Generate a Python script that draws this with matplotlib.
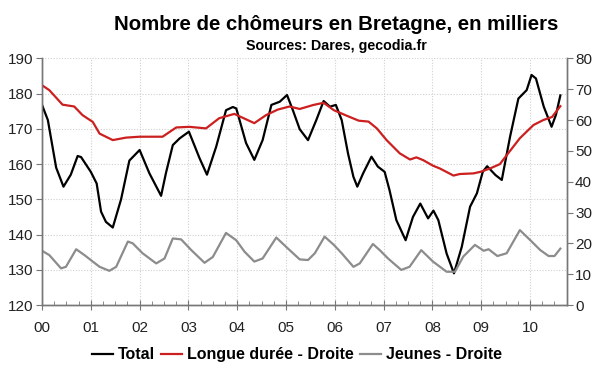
import numpy as np
import matplotlib.pyplot as plt
from matplotlib.ticker import MultipleLocator

plt.rcParams['font.family'] = ['Liberation Sans', 'DejaVu Sans']

# Total (left axis), in thousands
total_x = [0.0, 0.12, 0.29, 0.44, 0.59, 0.73, 0.8, 1.0, 1.12, 1.21, 1.31, 1.45, 1.62, 1.79,
           2.0, 2.2, 2.44, 2.54, 2.68, 2.82, 3.01, 3.23, 3.38, 3.57, 3.77, 3.91, 3.98,
           4.18, 4.35, 4.52, 4.7, 4.87, 5.02, 5.14, 5.28, 5.45, 5.62, 5.77, 5.9, 6.02,
           6.14, 6.27, 6.38, 6.46, 6.58, 6.75, 6.88, 7.02, 7.12, 7.26, 7.45, 7.6, 7.75,
           7.91, 8.02, 8.12, 8.29, 8.44, 8.6, 8.77, 8.91, 9.03, 9.12, 9.29, 9.42, 9.59,
           9.76, 9.93, 10.03, 10.12, 10.28, 10.44, 10.53, 10.62]
total_y = [176.8, 172.5, 159, 153.6, 157, 162.3, 162, 157.8, 154.5, 146.5, 143.6, 142, 150, 161,
           164, 157.4, 151, 157.5, 165.4, 167.3, 169.2, 161.6, 157, 165, 175.3, 176.2, 175.8,
           166, 161.2, 166.8, 176.8, 177.7, 179.6, 175.3, 169.9, 166.8, 172.5, 177.9, 176.3, 176.8,
           172.5, 163, 156.4, 153.6, 157.4, 162.1, 159.3, 157.8, 152.6, 144.1, 138.4, 145, 148.8,
           144.6, 146.8, 144.1, 134.6, 129, 136.5, 147.9, 151.7, 157.8, 159.4, 156.9, 155.5, 167.8,
           178.6, 181, 185.3, 184.3, 176.3, 170.6, 174, 179.5]

# Longue duree (right axis)
longue_x = [0.0, 0.15, 0.42, 0.66, 0.83, 1.04, 1.18, 1.45, 1.72, 2.0, 2.47, 2.75, 3.02, 3.36,
            3.63, 3.94, 4.35, 4.59, 4.83, 5.07, 5.28, 5.56, 5.77, 5.98, 6.26, 6.49, 6.69,
            6.86, 7.06, 7.33, 7.54, 7.67, 7.81, 8.01, 8.15, 8.43, 8.56, 8.84, 8.98, 9.18,
            9.38, 9.55, 9.79, 10.07, 10.27, 10.45, 10.62]
longue_y = [71.3, 69.7, 65, 64.4, 61.6, 59.4, 55.6, 53.5, 54.3, 54.6, 54.6, 57.6, 57.8, 57.3,
            60.6, 62, 59, 61.6, 63.4, 64.4, 63.6, 64.9, 65.6, 63.2, 61.3, 59.8, 59.5,
            57.3, 53.5, 49.2, 47.2, 47.9, 47, 45.2, 44.3, 42, 42.5, 42.7, 43.2, 44.3,
            45.7, 49.2, 54.1, 58.4, 60, 61, 64.5]

# Jeunes (right axis)
jeunes_x = [0.0, 0.15, 0.39, 0.49, 0.7, 0.87, 1.04, 1.18, 1.38, 1.52, 1.76, 1.86, 2.06, 2.34,
            2.51, 2.68, 2.85, 3.06, 3.33, 3.5, 3.77, 3.98, 4.15, 4.35, 4.52, 4.8, 5.0, 5.28,
            5.45, 5.59, 5.79, 5.98, 6.14, 6.38, 6.51, 6.78, 6.92, 7.09, 7.36, 7.53, 7.77,
            8.01, 8.29, 8.46, 8.63, 8.87, 9.05, 9.15, 9.33, 9.52, 9.79, 10.0, 10.21, 10.38,
            10.5, 10.62]
jeunes_y = [17.6, 16.2, 11.9, 12.4, 18.1, 16.2, 14.1, 12.4, 11.1, 12.4, 20.6, 20, 16.8, 13.5,
            15.1, 21.6, 21.3, 17.8, 13.7, 15.6, 23.4, 21, 17.3, 14.1, 15.1, 21.9, 18.9, 14.8,
            14.6, 16.8, 22.2, 19.5, 16.8, 12.4, 13.5, 19.8, 17.8, 15.1, 11.4, 12.4, 17.8,
            14.1, 10.8, 10.8, 15.7, 19.5, 17.6, 18.1, 15.9, 16.8, 24.3, 21.1, 17.8, 15.9,
            15.9, 18.3]

years = ['00', '01', '02', '03', '04', '05', '06', '07', '08', '09', '10']

fig, ax = plt.subplots(figsize=(6, 3.72), dpi=100)
fig.subplots_adjust(left=0.07, right=0.9445, bottom=0.18, top=0.843)
ax2 = ax.twinx()

l1, = ax.plot(total_x, total_y, color='black', lw=1.6, label='Total', zorder=5)
l2, = ax2.plot(longue_x, longue_y, color='#cc1f1f', lw=1.6, label='Longue durée - Droite')
l3, = ax2.plot(jeunes_x, jeunes_y, color='#8c8c8c', lw=1.6, label='Jeunes - Droite')

ax.set_xlim(0, 10.75)
ax.set_ylim(120, 190)
ax2.set_ylim(0, 80)
ax.set_xticks(range(len(years)))
ax.set_xticklabels(years)
ax.xaxis.set_minor_locator(MultipleLocator(0.25))
ax.yaxis.set_major_locator(MultipleLocator(10))
ax2.yaxis.set_major_locator(MultipleLocator(10))

ax.grid(True, which='major', color='#d0d0d0', ls=(0, (1, 1.5)), lw=0.8)
ax.set_axisbelow(True)

spine_c = '#777777'
for a in (ax, ax2):
    a.spines['top'].set_visible(False)
    for s in ('left', 'right', 'bottom'):
        a.spines[s].set_color(spine_c)
        a.spines[s].set_linewidth(1.0)
ax.tick_params(axis='y', direction='out', length=4, color=spine_c, labelsize=11, labelcolor='#222222', pad=2)
ax2.tick_params(axis='y', direction='out', length=4, color=spine_c, labelsize=11, labelcolor='#222222', pad=2)
ax.tick_params(axis='x', which='major', direction='inout', length=7, color=spine_c, labelsize=11,
               labelcolor='#222222', pad=8)
ax.tick_params(axis='x', which='minor', direction='in', length=3, color=spine_c)

fig.text(0.56, 0.935, 'Nombre de chômeurs en Bretagne, en milliers', ha='center', va='center',
         fontsize=14.7, weight='bold')
fig.text(0.56, 0.876, 'Sources: Dares, gecodia.fr', ha='center', va='center',
         fontsize=10.3, weight='bold')

fig.legend(handles=[l1, l2, l3], loc='center', bbox_to_anchor=(0.495, 0.046), ncol=3,
           frameon=False, handlelength=1.3, handletextpad=0.3, columnspacing=0.4,
           prop={'weight': 'bold', 'size': 11.5})

plt.savefig('out.png', dpi=100)
